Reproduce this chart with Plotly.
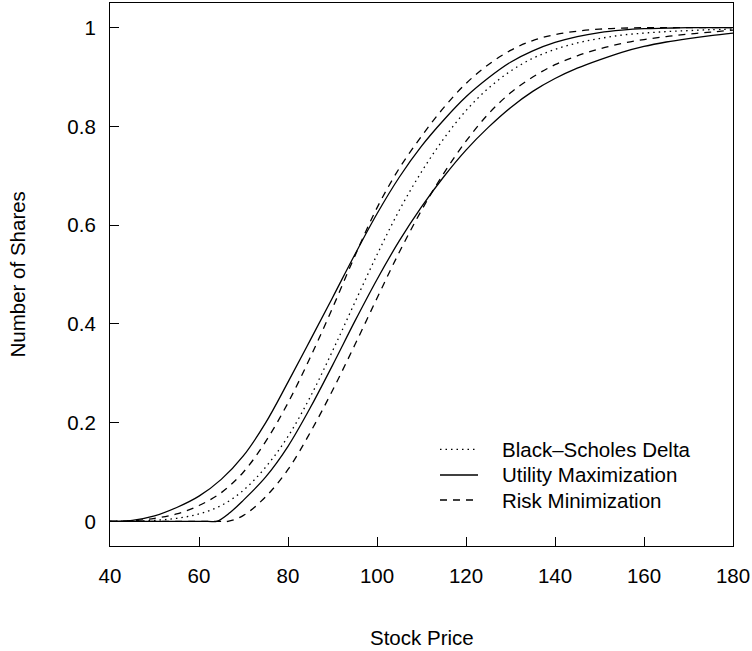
import plotly.graph_objects as go

# Stock price grid and hedge ratios (number of shares held)
price = [40, 45, 50, 55, 60, 65, 70, 75, 80, 85, 90, 95, 100, 105, 110, 115,
         120, 125, 130, 135, 140, 145, 150, 155, 160, 165, 170, 175, 180]

bs_delta = [0, 0.0005, 0.002, 0.006, 0.015, 0.032, 0.063, 0.11, 0.172, 0.252,
            0.345, 0.443, 0.54, 0.63, 0.708, 0.775, 0.832, 0.877, 0.912, 0.938,
            0.956, 0.969, 0.978, 0.985, 0.989, 0.992, 0.994, 0.996, 0.997]

util_upper = [0, 0.002, 0.011, 0.028, 0.051, 0.085, 0.133, 0.2, 0.282, 0.367,
              0.453, 0.54, 0.623, 0.697, 0.76, 0.813, 0.86, 0.898, 0.93, 0.953,
              0.97, 0.982, 0.99, 0.995, 0.998, 0.999, 1.0, 1.0, 1.0]

risk_upper = [0, 0.001, 0.006, 0.015, 0.032, 0.058, 0.10, 0.162, 0.24, 0.332,
              0.432, 0.537, 0.635, 0.715, 0.78, 0.838, 0.887, 0.925, 0.954, 0.974,
              0.986, 0.993, 0.997, 0.999, 1.0, 1.0, 1.0, 1.0, 1.0]

# Lower bounds stay at zero until the price clears a threshold
price_util_lower = [40, 62, 64, 67, 70, 75, 80, 85, 90, 95, 100, 105, 110, 115,
                    120, 125, 130, 135, 140, 145, 150, 155, 160, 165, 170, 175, 180]
util_lower = [0, 0, 0, 0.018, 0.043, 0.09, 0.152, 0.23, 0.316, 0.405, 0.49, 0.568,
              0.637, 0.698, 0.752, 0.798, 0.838, 0.871, 0.897, 0.918, 0.935, 0.95,
              0.962, 0.971, 0.978, 0.984, 0.989]

price_risk_lower = [40, 64.5, 66.5, 70, 75, 80, 85, 90, 95, 100, 105, 110, 115, 120,
                    125, 130, 135, 140, 145, 150, 155, 160, 165, 170, 175, 180]
risk_lower = [0, 0, 0, 0.012, 0.05, 0.105, 0.18, 0.265, 0.357, 0.452, 0.545, 0.63,
              0.705, 0.77, 0.825, 0.868, 0.9, 0.925, 0.943, 0.957, 0.968,
              0.976, 0.982, 0.987, 0.991, 0.995]

x_ticks = [40, 60, 80, 100, 120, 140, 160, 180]
y_ticks = [0, 0.2, 0.4, 0.6, 0.8, 1]
y_tick_text = ["0", "0.2", "0.4", "0.6", "0.8", "1"]

legend_labels = ["Black\u2013Scholes Delta", "Utility Maximization", "Risk Minimization"]

FONT = "Liberation Sans, Arial, Helvetica, sans-serif"
DOT = "1.5px,4px"
DASH = "7px,6px"
LW = 1.3

fig = go.Figure()

def curve(x, y, dash):
    fig.add_trace(go.Scatter(
        x=x, y=y, mode="lines", showlegend=False, hoverinfo="skip",
        line=dict(color="black", width=LW, dash=dash, shape="spline", smoothing=1.0),
    ))

curve(price, bs_delta, DOT)
curve(price, util_upper, "solid")
curve(price_util_lower, util_lower, "solid")
curve(price, risk_upper, DASH)
curve(price_risk_lower, risk_lower, DASH)

# Hand-placed key in the lower right of the plot area
key_rows = [0.1781, 0.1308, 0.0847]
key_dash = [DOT, "solid", DASH]
for label, yy, dash in zip(legend_labels, key_rows, key_dash):
    fig.add_shape(type="line", xref="paper", yref="paper",
                  x0=0.5297, x1=0.5907, y0=yy, y1=yy,
                  line=dict(color="black", width=LW, dash=dash))
    fig.add_annotation(xref="paper", yref="paper", x=0.626, y=yy,
                       xanchor="left", yanchor="middle", showarrow=False,
                       text=label, font=dict(family=FONT, size=20.5, color="black"))

# Axis titles
fig.add_annotation(xref="paper", yref="paper", x=0.5, y=-0.1676,
                   xanchor="center", yanchor="middle", showarrow=False,
                   text="Stock Price", font=dict(family=FONT, size=20.5, color="black"))
fig.add_annotation(xref="paper", yref="paper", x=-0.1477, y=0.5,
                   xanchor="center", yanchor="middle", showarrow=False, textangle=-90,
                   text="Number of Shares", font=dict(family=FONT, size=20.5, color="black"))

axis_common = dict(
    showgrid=False, zeroline=False, showline=True, mirror=True,
    linecolor="black", linewidth=1.2, ticks="inside", ticklen=9,
    tickcolor="black", tickwidth=1.2,
    tickfont=dict(family=FONT, size=20.5, color="black"),
)

fig.update_xaxes(range=[40, 180], tickvals=x_ticks, ticklabelstandoff=11, **axis_common)
fig.update_yaxes(range=[-0.05, 1.05], tickvals=y_ticks, ticktext=y_tick_text,
                 ticklabelstandoff=9, **axis_common)

fig.update_layout(
    width=752, height=651,
    margin=dict(l=110, r=19, t=3, b=105),
    paper_bgcolor="white", plot_bgcolor="white",
    font=dict(family=FONT, size=20.5, color="black"),
)

fig.write_html("out.html")
